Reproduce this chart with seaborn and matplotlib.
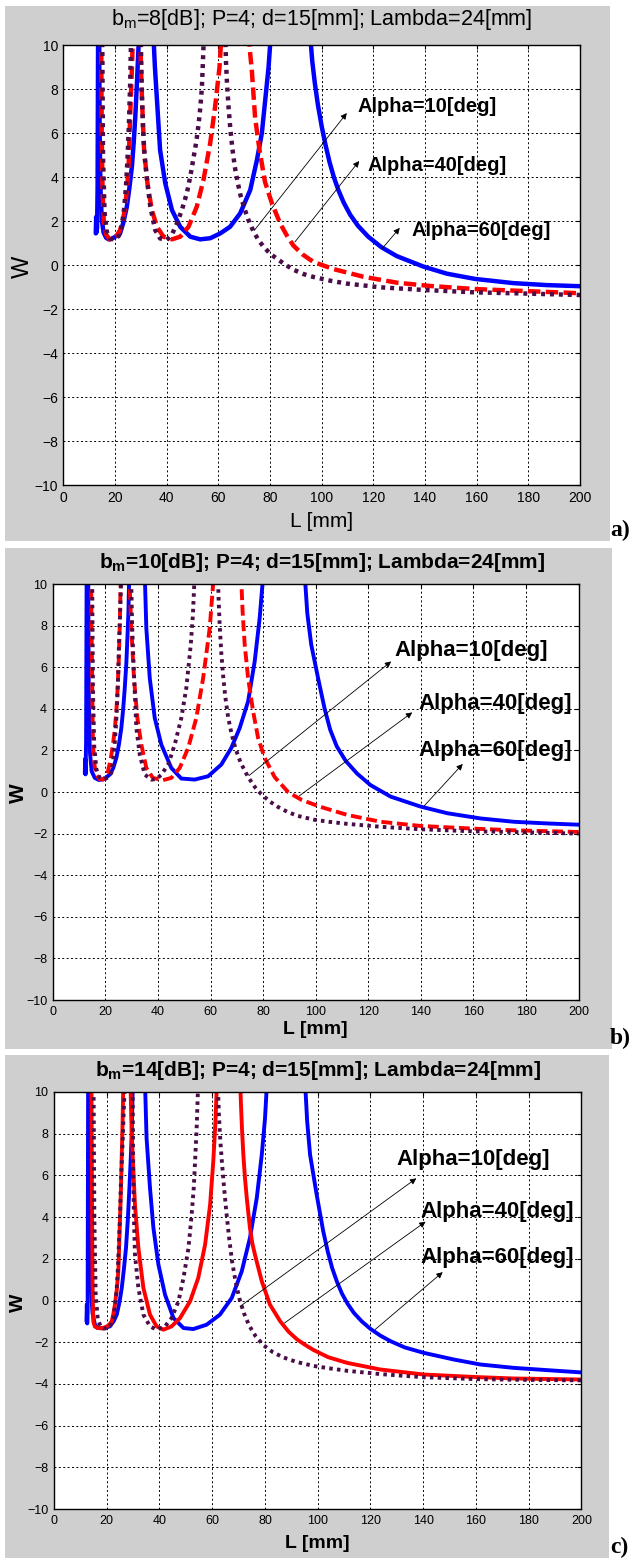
import matplotlib
matplotlib.use("Agg")
import matplotlib.pyplot as plt
from matplotlib.patches import Rectangle
import numpy as np
import pandas as pd
import seaborn as sns

nan = np.nan

# ---- data; nan separates the branches of one curve ----
# a) b_m = 8 dB
A_BLUE_L = [12.5, 12.65, 12.8, 13.0, 13.2, 13.4, nan,
            13.8, 14.0, 14.3, 14.8, 15.5, 16.5, 17.5, 18.5, 19.8, 21.0, 21.9, 23.2, 24.5, 25.5, 26.5, 27.2, 27.8, 28.4, 29.0, 29.3, nan,
            34.8, 35.4, 36.2, 37.4, 39.4, 42.0, 45.2, 49.1, 52.9, 56.8, 60.7, 64.5, 68.4, 72.3, 74.9, 76.8, 78.1, 79.4, 80.3, nan,
            95.5, 96.3, 97.3, 98.5, 100.0, 101.5, 103.0, 104.7, 106.5, 108.5, 111.0, 114.0, 118.0, 123.0, 129.0, 139.4, 148.4, 159.4, 174.2, 187.1, 200.0]
A_BLUE_W = [1.45, 2.2, 1.5, 1.7, 3.5, 10.5, nan,
            10.5, 6.0, 3.5, 2.1, 1.5, 1.25, 1.18, 1.2, 1.28, 1.38, 1.45, 1.95, 2.65, 3.5, 4.5, 5.6, 6.75, 8.2, 9.8, 10.5, nan,
            10.5, 9.0, 7.5, 5.24, 3.73, 2.51, 1.75, 1.3, 1.18, 1.23, 1.45, 1.75, 2.36, 3.42, 4.79, 6.0, 7.5, 9.0, 10.5, nan,
            10.5, 9.3, 8.3, 7.3, 6.3, 5.45, 4.7, 4.0, 3.4, 2.85, 2.3, 1.8, 1.3, 0.83, 0.42, -0.06, -0.38, -0.62, -0.81, -0.9, -0.95]
A_RED_L = [14.6, 14.8, 15.1, 15.6, 16.5, 17.8, 19.2, 20.6, 21.9, 23.0, 23.9, 24.6, 25.2, 25.8, 26.5, 26.9, nan,
           29.7, 30.0, 30.4, 31.2, 32.5, 34.2, 36.2, 38.7, 42.0, 45.2, 48.4, 51.6, 54.2, 56.8, 58.7, 60.4, 61.2, nan,
           71.7, 72.3, 72.9, 74.2, 75.9, 78.0, 80.7, 83.9, 86.5, 89.0, 92.5, 96.8, 104.5, 116.1, 129.1, 142.0, 159.4, 174.2, 200.0]
A_RED_W = [10.5, 6.0, 3.5, 2.0, 1.4, 1.18, 1.2, 1.35, 1.6, 2.05, 2.66, 3.5, 4.48, 6.75, 9.0, 10.5, nan,
           10.5, 9.0, 7.5, 5.24, 3.73, 2.51, 1.75, 1.3, 1.18, 1.3, 1.75, 2.66, 3.88, 5.55, 7.2, 9.0, 10.5, nan,
           10.5, 9.6, 8.9, 6.7, 5.24, 3.8, 2.82, 1.9, 1.35, 0.9, 0.5, 0.15, -0.17, -0.52, -0.79, -0.94, -1.08, -1.15, -1.27]
A_PURPLE_L = [15.0, 15.3, 15.9, 16.8, 18.2, 20.0, 21.5, 22.6, 23.5, 24.2, 24.8, 25.3, 25.8, 26.2, nan,
              29.9, 30.3, 30.8, 31.4, 32.5, 33.6, 35.5, 37.4, 40.0, 42.0, 43.9, 45.8, 47.8, 49.2, 50.3, 51.4, 52.3, 53.0, 53.6, 54.4, nan,
              62.6, 62.9, 63.3, 63.9, 64.6, 65.4, 66.3, 67.3, 68.5, 70.0, 71.6, 73.6, 75.5, 77.4, 80.0, 82.6, 86.0, 89.0, 93.0, 96.8, 103.3, 109.7, 122.6, 139.4, 159.4, 174.2, 200.0]
A_PURPLE_W = [10.5, 5.0, 2.4, 1.5, 1.2, 1.18, 1.35, 1.8, 2.6, 3.6, 4.9, 6.3, 8.2, 10.5, nan,
              10.5, 8.0, 6.2, 4.94, 3.73, 2.67, 1.6, 1.22, 1.15, 1.4, 1.9, 2.5, 3.3, 4.1, 4.85, 5.6, 6.4, 7.2, 8.1, 10.5, nan,
              10.5, 9.3, 8.3, 7.2, 6.2, 5.3, 4.5, 3.85, 3.2, 2.6, 2.06, 1.53, 1.15, 0.85, 0.53, 0.3, 0.02, -0.2, -0.4, -0.53, -0.7, -0.83, -1.0, -1.12, -1.23, -1.27, -1.35]

# b) b_m = 10 dB
B_BLUE_L = [12.2, 12.35, 12.5, 12.7, 12.9, nan,
            13.5, 13.7, 14.1, 14.8, 16.0, 17.5, 19.5, 21.7, 23.0, 24.2, 25.2, 26.1, 26.8, 27.4, 28.0, 28.4, 28.8, 29.1, nan,
            35.0, 35.6, 36.9, 38.8, 41.3, 45.1, 48.9, 54.0, 59.1, 64.1, 67.9, 71.1, 74.3, 76.8, 78.7, 80.1, nan,
            95.8, 96.8, 98.3, 100.9, 103.4, 105.5, 108.0, 111.4, 115.8, 120.9, 128.5, 139.9, 150.1, 162.7, 175.4, 188.1, 200.0]
B_BLUE_W = [0.9, 1.6, 0.85, 2.5, 10.5, nan,
            10.5, 5.0, 2.0, 1.0, 0.68, 0.58, 0.62, 0.84, 1.15, 1.64, 2.3, 3.08, 4.0, 5.0, 6.2, 7.4, 8.7, 10.5, nan,
            10.5, 7.88, 5.48, 3.56, 2.28, 1.16, 0.65, 0.6, 0.76, 1.32, 2.12, 3.08, 4.36, 6.28, 8.37, 10.5, nan,
            10.5, 8.6, 7.09, 5.48, 4.0, 3.0, 2.2, 1.5, 0.88, 0.33, -0.22, -0.7, -1.02, -1.27, -1.43, -1.51, -1.57]
B_RED_L = [14.6, 14.8, 15.0, 15.3, 16.0, 16.6, 17.8, 19.1, 20.2, 21.0, 22.0, 22.9, 23.6, 24.2, 24.7, 25.1, 25.5, 25.9, nan,
           29.1, 29.9, 30.9, 32.2, 33.7, 35.6, 38.1, 41.9, 45.1, 48.3, 51.5, 54.6, 57.2, 59.7, 61.3, nan,
           71.6, 72.2, 73.0, 74.3, 76.2, 78.1, 80.6, 84.4, 89.5, 94.5, 101.5, 112.0, 124.7, 139.9, 160.2, 175.4, 200.0]
B_RED_W = [10.5, 7.5, 5.48, 2.28, 1.2, 0.84, 0.62, 0.6, 0.75, 1.0, 1.55, 2.28, 3.0, 3.88, 5.0, 6.28, 8.0, 10.5, nan,
           10.5, 7.88, 5.48, 3.56, 2.28, 1.16, 0.68, 0.57, 0.68, 1.16, 2.12, 3.56, 5.48, 7.88, 10.5, nan,
           10.5, 8.7, 7.09, 5.48, 3.88, 2.6, 1.64, 0.72, 0.0, -0.37, -0.7, -1.1, -1.43, -1.63, -1.76, -1.84, -1.92]
B_PURPLE_L = [15.0, 15.3, 15.8, 16.6, 17.8, 19.5, 21.0, 22.3, 23.0, 23.6, 24.1, 24.5, 24.9, 25.2, 25.6, 26.1, nan,
              29.8, 30.2, 30.8, 31.3, 31.8, 33.1, 35.0, 37.5, 39.5, 41.3, 43.9, 46.4, 48.9, 50.8, 52.5, 53.3, 54.0, nan,
              62.8, 63.1, 63.5, 64.1, 64.8, 65.6, 66.7, 68.0, 69.6, 71.5, 74.3, 77.0, 79.3, 82.5, 85.7, 89.5, 93.3, 99.4, 105.0, 112.0, 124.7, 139.9, 160.2, 175.4, 200.0]
B_PURPLE_W = [10.5, 5.0, 2.2, 1.1, 0.7, 0.6, 0.7, 0.92, 1.5, 2.36, 3.3, 4.3, 5.6, 7.1, 8.5, 10.5, nan,
              10.5, 8.0, 6.0, 4.5, 3.08, 1.8, 0.84, 0.6, 0.62, 0.84, 1.32, 2.28, 3.56, 5.0, 7.09, 8.5, 10.5, nan,
              10.5, 9.2, 8.0, 6.7, 5.6, 4.6, 3.6, 2.8, 2.05, 1.4, 0.72, 0.22, -0.1, -0.45, -0.72, -0.97, -1.15, -1.33, -1.43, -1.53, -1.67, -1.79, -1.89, -1.92, -2.0]

# c) b_m = 14 dB
C_BLUE_L = [12.3, 12.45, 12.6, 12.75, 12.95, nan,
            13.4, 13.6, 14.0, 14.6, 15.5, 16.6, 18.0, 19.6, 21.2, 22.6, 23.8, 24.8, 25.7, 26.5, 27.3, 28.0, 28.6, 29.1, 29.5, 29.9, nan,
            34.5, 35.1, 36.4, 37.7, 39.6, 42.1, 45.3, 49.1, 52.8, 57.9, 62.9, 67.4, 71.2, 74.3, 76.9, 78.8, 80.0, 80.8, nan,
            95.2, 96.0, 97.1, 99.6, 102.1, 103.8, 105.5, 107.3, 109.2, 111.3, 113.7, 116.7, 120.0, 123.7, 127.6, 133.0, 140.2, 151.6, 161.7, 174.3, 187.0, 200.0]
C_BLUE_W = [-1.0, -0.2, -1.1, -0.6, 10.5, nan,
            10.5, 4.0, 0.5, -0.6, -1.15, -1.32, -1.33, -1.3, -1.24, -1.0, -0.68, -0.1, 0.6, 1.5, 2.52, 3.9, 5.4, 6.8, 8.1, 10.5, nan,
            10.5, 7.8, 5.4, 3.48, 1.72, 0.28, -0.84, -1.32, -1.37, -1.16, -0.68, 0.12, 1.4, 3.0, 4.92, 7.0, 8.7, 10.5, nan,
            10.5, 8.6, 7.0, 5.08, 3.32, 2.35, 1.55, 0.9, 0.33, -0.15, -0.59, -1.0, -1.36, -1.68, -1.95, -2.25, -2.51, -2.83, -3.07, -3.23, -3.34, -3.45]
C_RED_L = [14.2, 14.4, 14.6, 14.9, 15.5, 16.5, 18.3, 20.0, 21.0, 21.9, 22.5, 23.1, 23.8, 24.4, 25.0, 25.4, 25.7, 26.0, 26.3, nan,
           29.0, 29.3, 29.8, 30.7, 32.0, 33.9, 36.4, 38.9, 41.5, 44.6, 47.8, 51.6, 54.7, 57.3, 59.2, 60.4, 61.2, 61.8, nan,
           70.6, 70.9, 71.3, 71.8, 72.4, 73.1, 74.3, 75.2, 76.2, 78.8, 81.9, 85.8, 89.0, 92.2, 95.5, 98.5, 104.0, 111.1, 123.8, 140.2, 159.8, 174.3, 200.0]
C_RED_W = [10.5, 5.0, 1.0, -1.0, -1.25, -1.32, -1.33, -1.25, -1.15, -1.0, -0.65, -0.2, 0.5, 1.4, 3.8, 5.4, 7.0, 8.5, 10.5, nan,
           10.5, 8.7, 7.0, 4.6, 2.52, 0.6, -0.68, -1.24, -1.4, -1.24, -0.84, -0.04, 1.08, 2.68, 4.6, 6.67, 8.5, 10.5, nan,
           10.5, 9.4, 8.2, 7.0, 5.9, 4.92, 3.48, 2.75, 2.2, 0.92, -0.2, -1.0, -1.5, -1.87, -2.15, -2.38, -2.72, -2.99, -3.31, -3.55, -3.67, -3.74, -3.79]
C_PURPLE_L = [15.0, 15.3, 15.8, 16.6, 17.8, 18.7, 20.6, 21.6, 22.5, 23.2, 23.8, 24.3, 24.7, 25.1, 25.4, 25.9, 26.3, 26.9, nan,
              29.8, 30.0, 30.3, 30.7, 32.0, 33.9, 36.4, 38.9, 42.1, 44.6, 47.2, 49.1, 51.0, 52.2, 53.0, 53.5, 54.1, 54.7, nan,
              62.1, 62.5, 63.0, 63.7, 64.5, 65.4, 66.4, 67.5, 68.8, 70.3, 72.0, 74.0, 76.5, 79.5, 83.0, 87.0, 92.0, 98.5, 105.3, 111.1, 123.8, 140.2, 159.8, 174.3, 200.0]
C_PURPLE_W = [10.5, 4.0, 0.3, -0.9, -1.28, -1.35, -1.32, -1.15, -0.84, -0.2, 0.6, 1.7, 3.0, 4.3, 5.7, 7.2, 8.6, 10.5, nan,
              10.5, 7.0, 4.0, 2.2, 0.6, -0.68, -1.24, -1.4, -1.24, -0.84, -0.04, 1.08, 2.52, 4.12, 5.4, 6.67, 8.3, 10.5, nan,
              10.5, 9.0, 7.8, 6.6, 5.4, 4.2, 3.0, 1.9, 0.95, 0.1, -0.6, -1.2, -1.72, -2.15, -2.48, -2.73, -2.95, -3.14, -3.27, -3.37, -3.53, -3.68, -3.77, -3.8, -3.83]

BM_VALUES = [8, 10, 14]
PANEL_TAGS = ["a)", "b)", "c)"]
ALPHA_LABELS = ["Alpha=10[deg]", "Alpha=40[deg]", "Alpha=60[deg]"]
X_TICKS = list(range(0, 201, 20))
Y_TICKS = list(range(-10, 11, 2))

W_PX, H_PX = 632, 1560
GRAY = "#cfcfcf"
BLUE = "#0000ff"
RED = "#ff0000"
PURPLE = "#4a0d4a"


def frame(L, W):
    df = pd.DataFrame({"L": L, "W": W})
    df["branch"] = df["L"].isna().cumsum()
    return df.dropna()


def fx(x):
    return x / W_PX


def fy(y):
    return 1 - y / H_PX


def rect(l, t, r, b):
    return [fx(l), fy(b), fx(r) - fx(l), fy(t) - fy(b)]


sns.set_theme(style="white")
plt.rcParams["font.family"] = ["Liberation Sans", "DejaVu Sans"]
plt.rcParams["text.color"] = "black"
plt.rcParams["mathtext.fontset"] = "custom"
plt.rcParams["mathtext.rm"] = "Liberation Sans"
plt.rcParams["mathtext.bf"] = "Liberation Sans:bold"

fig = plt.figure(figsize=(W_PX / 100, H_PX / 100), dpi=100, facecolor="white")

panels = [
    dict(gray=(5, 6, 610, 541), box=(63.5, 45.3, 580, 485.3), bold=False,
         title_xy=(322, 19), title_fs=15.5, tick_fs=10, xlab_y=522, xlab_fs=15, w_x=23, w_y=267, w_fs=17,
         tag_xy=(610, 530),
         series=[(A_BLUE_L, A_BLUE_W), (A_RED_L, A_RED_W), (A_PURPLE_L, A_PURPLE_W)],
         text_at=[(114, 7.2), (117.6, 4.55), (134.9, 1.59)],
         arrows=[((73.9, 1.59), (109.7, 6.92)), ((89.6, 1.06), (114.5, 4.74)), ((123.4, 0.76), (130.2, 1.7))],
         ann_fs=14.5, lw=3.2),
    dict(gray=(5, 548, 612, 1049), box=(52.7, 584.1, 578.7, 1000), bold=True,
         title_xy=(322, 562), title_fs=15, tick_fs=9, xlab_y=1030, xlab_fs=14, w_x=18, w_y=793, w_fs=15,
         tag_xy=(610, 1038),
         series=[(B_BLUE_L, B_BLUE_W), (B_RED_L, B_RED_W), (B_PURPLE_L, B_PURPLE_W)],
         text_at=[(129.8, 6.79), (139, 4.26), (139, 2.02)],
         arrows=[((74.6, 0.79), (128.7, 6.28)), ((93.8, -0.18), (136.7, 3.83)), ((141.3, -0.66), (155.9, 1.35))],
         ann_fs=16, lw=2.8),
    dict(gray=(5, 1055, 609, 1558), box=(54, 1092, 581.4, 1509), bold=True,
         title_xy=(318, 1070), title_fs=15, tick_fs=9, xlab_y=1543, xlab_fs=14, w_x=18, w_y=1303, w_fs=14,
         tag_xy=(610, 1547),
         series=[(C_BLUE_L, C_BLUE_W), (C_RED_L, C_RED_W), (C_PURPLE_L, C_PURPLE_W)],
         text_at=[(129.9, 6.77), (138.9, 4.26), (138.9, 2.08)],
         arrows=[((70.6, -0.28), (137.4, 5.86)), ((87.4, -1.08), (140.9, 3.78)), ((121.8, -1.39), (147.4, 1.36))],
         ann_fs=16, lw=2.8),
]

for i, p in enumerate(panels):
    gl, gt, gr, gb = p["gray"]
    fig.patches.append(Rectangle((fx(gl), fy(gb)), fx(gr) - fx(gl), fy(gt) - fy(gb),
                                 transform=fig.transFigure, facecolor=GRAY, edgecolor="none", zorder=-5))
    ax = fig.add_axes(rect(*p["box"]))
    ax.set_zorder(2)
    ax.set_facecolor("white")

    # red dashed in a) and b), solid in c)
    red_style = "-" if i == 2 else (0, (2.8, 1.2))
    styles = [(BLUE, "-"), (RED, red_style), (PURPLE, (0, (0.9, 1.1)))]
    for (L, W), (color, ls) in zip(p["series"], styles):
        sns.lineplot(data=frame(L, W), x="L", y="W", units="branch", estimator=None, sort=False,
                     color=color, linestyle=ls, linewidth=p["lw"], ax=ax)

    ax.set_xlim(0, 200)
    ax.set_ylim(-10, 10)
    ax.set_xticks(X_TICKS)
    ax.set_yticks(Y_TICKS)
    ax.set_xlabel("")
    ax.set_ylabel("")
    ax.grid(True, color="black", linestyle=(0, (2, 2.5)), linewidth=0.7)
    for sp in ax.spines.values():
        sp.set_color("black")
        sp.set_linewidth(1.0)
    ax.tick_params(direction="in", length=3, width=0.8, top=True, right=True,
                   labelsize=p["tick_fs"], pad=4, colors="black")

    weight = "bold" if p["bold"] else "normal"
    for label, (tx, ty), (tail, head) in zip(ALPHA_LABELS, p["text_at"], p["arrows"]):
        ax.annotate("", xy=head, xytext=tail,
                    arrowprops=dict(arrowstyle="-|>", color="black", lw=0.6, mutation_scale=9,
                                    shrinkA=0, shrinkB=0))
        ax.text(tx, ty, label, ha="left", va="center", fontsize=p["ann_fs"], fontweight="bold",
                color="black")

    sub = r"$\mathbf{b}_{\mathbf{m}}$" if p["bold"] else r"$\mathrm{b}_{\mathrm{m}}$"
    title = sub + f"={BM_VALUES[i]}[dB]; P=4; d=15[mm]; Lambda=24[mm]"
    fig.text(fx(p["title_xy"][0]), fy(p["title_xy"][1]), title, ha="center", va="center",
             fontsize=p["title_fs"], fontweight=weight)
    xc = (p["box"][0] + p["box"][2]) / 2
    fig.text(fx(xc), fy(p["xlab_y"]), "L [mm]", ha="center", va="center",
             fontsize=p["xlab_fs"], fontweight=weight)
    fig.text(fx(p["w_x"]), fy(p["w_y"]), "W", ha="center", va="center", rotation=90,
             fontsize=p["w_fs"], fontweight=weight)
    fig.text(fx(p["tag_xy"][0]), fy(p["tag_xy"][1]), PANEL_TAGS[i], ha="left", va="center",
             fontsize=17, fontweight="bold", family=["Liberation Serif", "DejaVu Serif"])

fig.savefig("out.png", dpi=100, facecolor="white")
